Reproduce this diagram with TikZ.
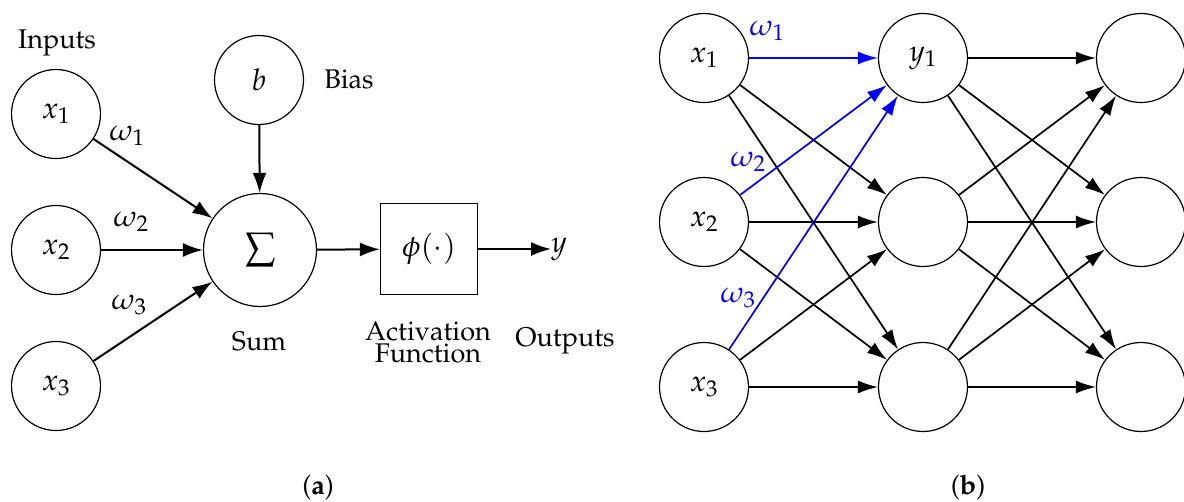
\documentclass[tikz,border=0pt]{standalone}
\usepackage[T1]{fontenc}
\usepackage{mathpazo}
\usetikzlibrary{arrows.meta}
\newcommand\lblfont{\fontsize{27}{22}\selectfont}
\newcommand\mathfont{\fontsize{30}{34}\selectfont}
\newcommand\bigmathfont{\fontsize{38}{42}\selectfont}
\begin{document}
\begin{tikzpicture}[x=1pt,y=-1pt,
  neuron/.style={circle,draw,line width=1.2pt,minimum size=89pt,inner sep=0pt,font=\mathfont},
  sumnode/.style={circle,draw,line width=1.2pt,minimum size=113pt,inner sep=0pt,font=\bigmathfont},
  actbox/.style={draw,line width=1.2pt,minimum width=97pt,minimum height=91pt,inner sep=0pt,font=\mathfont},
  lbl/.style={inner sep=0pt,font=\lblfont},
  mlbl/.style={inner sep=0pt,font=\mathfont},
  arr/.style={-{Latex[length=20pt,width=14pt]},line width=2pt},
  arrb/.style={-{Latex[length=20pt,width=13pt]},line width=1.7pt},
  wblue/.style={blue},
]
\useasboundingbox (0,0) rectangle (1184,501);
% ---------- (a) ----------
\node[neuron] (x1) at (56,114) {$x_1$};
\node[neuron] (x2) at (56,250) {$x_2$};
\node[neuron] (x3) at (56,386) {$x_3$};
\node[neuron] (b) at (259,80) {$b$};
\node[sumnode] (s) at (260,250) {$\sum$};
\node[actbox] (phi) at (429,249) {$\phi(\cdot)$};
\node[mlbl,anchor=west] (y) at (551,249) {$y$};
\draw[arr] (x1) -- (s);
\draw[arr] (x2) -- (s);
\draw[arr] (x3) -- (s);
\draw[arr] (b) -- (s);
\draw[arr] (s) -- (phi);
\draw[arr] (phi) -- (y);
\node[mlbl] (w1a) at (127,136) {$\omega_1$};
\node[mlbl] (w2a) at (131,222) {$\omega_2$};
\node[mlbl] (w3a) at (129,305) {$\omega_3$};
\node[lbl] (inputs) at (57,43) {Inputs};
\node[lbl] (bias) at (349,79) {Bias};
\node[lbl] (sum) at (259,341) {Sum};
\node[lbl,align=center] (act) at (428,342) {Activation\\Function};
\node[lbl] (outs) at (565,341) {Outputs};
\node[lbl] (capa) at (318,488) {(\textbf{a})};
% ---------- (b) ----------
\foreach \i/\yy in {1/58,2/222,3/387}{
  \node[neuron] (i\i) at (704,\yy) {$x_\i$};
  \node[neuron] (o\i) at (1141,\yy) {};
}
\node[neuron] (h1) at (923,58) {$y_1$};
\node[neuron] (h2) at (923,222) {};
\node[neuron] (h3) at (923,387) {};
\foreach \i in {1,2,3}{
  \foreach \j in {2,3}{
    \draw[arrb] (i\i) -- (h\j);
  }
  \foreach \j in {1,2,3}{
    \draw[arrb] (h\i) -- (o\j);
  }
}
\foreach \i in {1,2,3}{
  \draw[arrb,wblue] (i\i) -- (h1);
}
\node[mlbl,wblue] (w1b) at (767,31) {$\omega_1$};
\node[mlbl,wblue] (w2b) at (748,162) {$\omega_2$};
\node[mlbl,wblue] (w3b) at (738,298) {$\omega_3$};
\node[lbl] (capb) at (968,488) {(\textbf{b})};
\end{tikzpicture}
\end{document}
